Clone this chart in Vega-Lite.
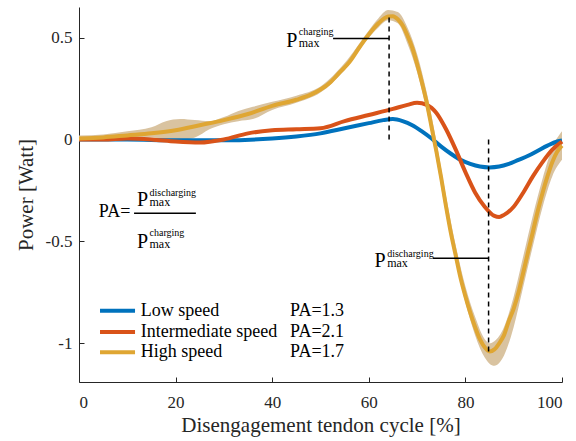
{
  "$schema": "https://vega.github.io/schema/vega-lite/v6.json",
  "width": 483,
  "height": 375,
  "autosize": "none",
  "padding": {"left": 79, "top": 7, "right": 14, "bottom": 59},
  "background": "white",
  "config": {
    "view": {"stroke": null},
    "font": "Liberation Serif",
    "axis": {"grid": false, "domainColor": "#262626", "tickColor": "#262626", "labelColor": "#262626", "titleColor": "#262626", "labelFont": "Liberation Serif", "titleFont": "Liberation Serif", "labelFontSize": 17, "titleFontSize": 21, "titleFontWeight": "normal", "tickSize": -5, "domainWidth": 1, "tickWidth": 1}
  },
  "datasets": {
    "curves": [
      {"series": "Low speed", "x": 0, "y": 0.0},
      {"series": "Low speed", "x": 10, "y": 0.0},
      {"series": "Low speed", "x": 20, "y": -0.004},
      {"series": "Low speed", "x": 30, "y": -0.004},
      {"series": "Low speed", "x": 40, "y": 0.005},
      {"series": "Low speed", "x": 45, "y": 0.015},
      {"series": "Low speed", "x": 50, "y": 0.03},
      {"series": "Low speed", "x": 55, "y": 0.055},
      {"series": "Low speed", "x": 60, "y": 0.08},
      {"series": "Low speed", "x": 63, "y": 0.095},
      {"series": "Low speed", "x": 65, "y": 0.1},
      {"series": "Low speed", "x": 67, "y": 0.09},
      {"series": "Low speed", "x": 69, "y": 0.07},
      {"series": "Low speed", "x": 71, "y": 0.04},
      {"series": "Low speed", "x": 73, "y": 0.005},
      {"series": "Low speed", "x": 75, "y": -0.035},
      {"series": "Low speed", "x": 77, "y": -0.07},
      {"series": "Low speed", "x": 79, "y": -0.1},
      {"series": "Low speed", "x": 81, "y": -0.12},
      {"series": "Low speed", "x": 83, "y": -0.133},
      {"series": "Low speed", "x": 85, "y": -0.137},
      {"series": "Low speed", "x": 87, "y": -0.133},
      {"series": "Low speed", "x": 89, "y": -0.12},
      {"series": "Low speed", "x": 91, "y": -0.1},
      {"series": "Low speed", "x": 93, "y": -0.08},
      {"series": "Low speed", "x": 95, "y": -0.055},
      {"series": "Low speed", "x": 97, "y": -0.03},
      {"series": "Low speed", "x": 99, "y": -0.01},
      {"series": "Low speed", "x": 100, "y": -0.005},
      {"series": "Intermediate speed", "x": 0, "y": 0.0},
      {"series": "Intermediate speed", "x": 5, "y": 0.0},
      {"series": "Intermediate speed", "x": 10, "y": 0.005},
      {"series": "Intermediate speed", "x": 15, "y": 0.0},
      {"series": "Intermediate speed", "x": 20, "y": -0.01},
      {"series": "Intermediate speed", "x": 25, "y": -0.015},
      {"series": "Intermediate speed", "x": 30, "y": 0.0},
      {"series": "Intermediate speed", "x": 35, "y": 0.03},
      {"series": "Intermediate speed", "x": 40, "y": 0.045},
      {"series": "Intermediate speed", "x": 45, "y": 0.05},
      {"series": "Intermediate speed", "x": 50, "y": 0.055},
      {"series": "Intermediate speed", "x": 55, "y": 0.09},
      {"series": "Intermediate speed", "x": 60, "y": 0.12},
      {"series": "Intermediate speed", "x": 65, "y": 0.15},
      {"series": "Intermediate speed", "x": 68, "y": 0.17},
      {"series": "Intermediate speed", "x": 70, "y": 0.18},
      {"series": "Intermediate speed", "x": 72, "y": 0.17},
      {"series": "Intermediate speed", "x": 74, "y": 0.13},
      {"series": "Intermediate speed", "x": 76, "y": 0.05},
      {"series": "Intermediate speed", "x": 78, "y": -0.05},
      {"series": "Intermediate speed", "x": 80, "y": -0.16},
      {"series": "Intermediate speed", "x": 82, "y": -0.26},
      {"series": "Intermediate speed", "x": 84, "y": -0.33},
      {"series": "Intermediate speed", "x": 86, "y": -0.375},
      {"series": "Intermediate speed", "x": 87, "y": -0.38},
      {"series": "Intermediate speed", "x": 88, "y": -0.37},
      {"series": "Intermediate speed", "x": 90, "y": -0.33},
      {"series": "Intermediate speed", "x": 92, "y": -0.26},
      {"series": "Intermediate speed", "x": 94, "y": -0.18},
      {"series": "Intermediate speed", "x": 96, "y": -0.11},
      {"series": "Intermediate speed", "x": 98, "y": -0.05},
      {"series": "Intermediate speed", "x": 100, "y": -0.01},
      {"series": "High speed", "x": 0, "y": 0.005},
      {"series": "High speed", "x": 5, "y": 0.01},
      {"series": "High speed", "x": 10, "y": 0.02},
      {"series": "High speed", "x": 15, "y": 0.03},
      {"series": "High speed", "x": 20, "y": 0.045},
      {"series": "High speed", "x": 25, "y": 0.07},
      {"series": "High speed", "x": 30, "y": 0.095},
      {"series": "High speed", "x": 35, "y": 0.125},
      {"series": "High speed", "x": 40, "y": 0.165},
      {"series": "High speed", "x": 45, "y": 0.195},
      {"series": "High speed", "x": 48, "y": 0.22},
      {"series": "High speed", "x": 50, "y": 0.245},
      {"series": "High speed", "x": 52, "y": 0.28},
      {"series": "High speed", "x": 54, "y": 0.33},
      {"series": "High speed", "x": 56, "y": 0.38},
      {"series": "High speed", "x": 58, "y": 0.45},
      {"series": "High speed", "x": 60, "y": 0.515},
      {"series": "High speed", "x": 62, "y": 0.57},
      {"series": "High speed", "x": 64, "y": 0.603},
      {"series": "High speed", "x": 65, "y": 0.605},
      {"series": "High speed", "x": 66, "y": 0.59},
      {"series": "High speed", "x": 67, "y": 0.56},
      {"series": "High speed", "x": 68, "y": 0.51},
      {"series": "High speed", "x": 69, "y": 0.45},
      {"series": "High speed", "x": 70, "y": 0.37},
      {"series": "High speed", "x": 71, "y": 0.28},
      {"series": "High speed", "x": 72, "y": 0.18},
      {"series": "High speed", "x": 73, "y": 0.06},
      {"series": "High speed", "x": 74, "y": -0.06},
      {"series": "High speed", "x": 75, "y": -0.19},
      {"series": "High speed", "x": 76, "y": -0.33},
      {"series": "High speed", "x": 77, "y": -0.46},
      {"series": "High speed", "x": 78, "y": -0.57},
      {"series": "High speed", "x": 79, "y": -0.68},
      {"series": "High speed", "x": 80, "y": -0.77},
      {"series": "High speed", "x": 81, "y": -0.85},
      {"series": "High speed", "x": 82, "y": -0.92},
      {"series": "High speed", "x": 83, "y": -0.98},
      {"series": "High speed", "x": 84, "y": -1.02},
      {"series": "High speed", "x": 85, "y": -1.04},
      {"series": "High speed", "x": 86, "y": -1.03},
      {"series": "High speed", "x": 87, "y": -1.0},
      {"series": "High speed", "x": 88, "y": -0.96},
      {"series": "High speed", "x": 89, "y": -0.89},
      {"series": "High speed", "x": 90, "y": -0.83},
      {"series": "High speed", "x": 91, "y": -0.75},
      {"series": "High speed", "x": 92, "y": -0.65},
      {"series": "High speed", "x": 93, "y": -0.55},
      {"series": "High speed", "x": 94, "y": -0.45},
      {"series": "High speed", "x": 95, "y": -0.35},
      {"series": "High speed", "x": 96, "y": -0.26},
      {"series": "High speed", "x": 97, "y": -0.18},
      {"series": "High speed", "x": 98, "y": -0.11},
      {"series": "High speed", "x": 99, "y": -0.06},
      {"series": "High speed", "x": 100, "y": -0.03}
    ],
    "band": [
      {"x": 0, "lo": -0.005, "hi": 0.02},
      {"x": 5, "lo": 0.0, "hi": 0.025},
      {"x": 10, "lo": 0.005, "hi": 0.04},
      {"x": 15, "lo": 0.01, "hi": 0.06},
      {"x": 18, "lo": 0.0, "hi": 0.09},
      {"x": 21, "lo": 0.0, "hi": 0.1},
      {"x": 24, "lo": 0.01, "hi": 0.095},
      {"x": 27, "lo": 0.05, "hi": 0.09},
      {"x": 30, "lo": 0.075, "hi": 0.11},
      {"x": 33, "lo": 0.09, "hi": 0.14},
      {"x": 36, "lo": 0.1, "hi": 0.16},
      {"x": 40, "lo": 0.145, "hi": 0.185},
      {"x": 45, "lo": 0.18, "hi": 0.215},
      {"x": 50, "lo": 0.23, "hi": 0.26},
      {"x": 55, "lo": 0.34, "hi": 0.375},
      {"x": 60, "lo": 0.5, "hi": 0.535},
      {"x": 62, "lo": 0.55, "hi": 0.595},
      {"x": 64, "lo": 0.585, "hi": 0.635},
      {"x": 66, "lo": 0.57, "hi": 0.625},
      {"x": 68, "lo": 0.47, "hi": 0.55},
      {"x": 70, "lo": 0.33, "hi": 0.42},
      {"x": 72, "lo": 0.14, "hi": 0.23},
      {"x": 74, "lo": -0.1, "hi": -0.01},
      {"x": 76, "lo": -0.37, "hi": -0.28},
      {"x": 78, "lo": -0.6, "hi": -0.52},
      {"x": 80, "lo": -0.8, "hi": -0.72},
      {"x": 82, "lo": -0.96, "hi": -0.87},
      {"x": 84, "lo": -1.07, "hi": -0.98},
      {"x": 85, "lo": -1.1, "hi": -1.0},
      {"x": 86, "lo": -1.11, "hi": -0.99},
      {"x": 88, "lo": -1.06, "hi": -0.92},
      {"x": 90, "lo": -0.92, "hi": -0.77},
      {"x": 92, "lo": -0.72, "hi": -0.57},
      {"x": 94, "lo": -0.52, "hi": -0.37},
      {"x": 96, "lo": -0.33, "hi": -0.19},
      {"x": 98, "lo": -0.18, "hi": -0.04},
      {"x": 100, "lo": -0.1, "hi": 0.04}
    ],
    "dashed": [
      {"x": 64.2, "y": 0, "y2": 0.603},
      {"x": 84.8, "y": 0, "y2": -1.04}
    ],
    "segments": [
      {"x": 52.6, "x2": 64.2, "y": 0.496},
      {"x": 73.3, "x2": 84.8, "y": -0.583},
      {"x": 11.4, "x2": 24.2, "y": -0.362}
    ],
    "legendlines": [
      {"series": "Low speed", "x": 4.35, "x2": 11.6, "y": -0.84},
      {"series": "Intermediate speed", "x": 4.35, "x2": 11.6, "y": -0.945},
      {"series": "High speed", "x": 4.35, "x2": 11.6, "y": -1.044}
    ],
    "texts": [
      {"role": "big", "x": 45.2, "y": 0.454, "label": "P"},
      {"role": "sup", "x": 45.5, "y": 0.513, "label": "charging"},
      {"role": "sub", "x": 45.5, "y": 0.454, "label": "max"},
      {"role": "big", "x": 63.5, "y": -0.626, "label": "P"},
      {"role": "sup", "x": 63.8, "y": -0.577, "label": "discharging"},
      {"role": "sub", "x": 63.8, "y": -0.626, "label": "max"},
      {"role": "big", "x": 14.3, "y": -0.326, "label": "P"},
      {"role": "sup", "x": 14.6, "y": -0.277, "label": "discharging"},
      {"role": "sub", "x": 14.6, "y": -0.326, "label": "max"},
      {"role": "big", "x": 14.3, "y": -0.533, "label": "P"},
      {"role": "sup", "x": 14.6, "y": -0.474, "label": "charging"},
      {"role": "sub", "x": 14.6, "y": -0.533, "label": "max"},
      {"role": "pa", "x": 4.1, "y": -0.38, "label": "PA="},
      {"role": "leg", "x": 12.8, "y": -0.865, "label": "Low speed"},
      {"role": "leg", "x": 12.8, "y": -0.969, "label": "Intermediate speed"},
      {"role": "leg", "x": 12.8, "y": -1.069, "label": "High speed"},
      {"role": "leg", "x": 43.7, "y": -0.865, "label": "PA=1.3"},
      {"role": "leg", "x": 43.7, "y": -0.969, "label": "PA=2.1"},
      {"role": "leg", "x": 43.7, "y": -1.069, "label": "PA=1.7"}
    ]
  },
  "layer": [
    {
      "data": {"name": "band"},
      "mark": {"type": "area", "color": "#D9C3A0", "opacity": 1, "interpolate": "monotone"},
      "encoding": {
        "x": {"field": "x", "type": "quantitative", "scale": {"domain": [0, 100], "nice": false},
          "axis": {"values": [0, 20, 40, 60, 80, 100], "title": "Disengagement tendon cycle [%]", "labelPadding": 17, "titlePadding": 4}},
        "y": {"field": "lo", "type": "quantitative", "scale": {"domain": [-1.19, 0.65], "nice": false, "zero": false},
          "axis": {"values": [-1, -0.5, 0, 0.5], "labelExpr": "toString(datum.value)", "title": "Power [Watt]", "labelPadding": 12, "titlePadding": 9}},
        "y2": {"field": "hi"}
      }
    },
    {
      "mark": {"type": "rule", "color": "#000000", "strokeWidth": 1.5},
      "encoding": {"y": {"datum": 0}}
    },
    {
      "data": {"name": "curves"},
      "mark": {"type": "line", "strokeWidth": 4, "interpolate": "monotone"},
      "encoding": {
        "x": {"field": "x", "type": "quantitative"},
        "y": {"field": "y", "type": "quantitative"},
        "color": {"field": "series", "type": "nominal", "legend": null,
          "scale": {"domain": ["Low speed", "Intermediate speed", "High speed"], "range": ["#0072BD", "#D95319", "#DFA633"]}}
      }
    },
    {
      "data": {"name": "dashed"},
      "mark": {"type": "rule", "color": "#000000", "strokeWidth": 1.5, "strokeDash": [5, 4]},
      "encoding": {
        "x": {"field": "x", "type": "quantitative"},
        "y": {"field": "y", "type": "quantitative"},
        "y2": {"field": "y2"}
      }
    },
    {
      "data": {"name": "segments"},
      "mark": {"type": "rule", "color": "#000000", "strokeWidth": 1.5},
      "encoding": {
        "x": {"field": "x", "type": "quantitative"},
        "x2": {"field": "x2"},
        "y": {"field": "y", "type": "quantitative"}
      }
    },
    {
      "data": {"name": "legendlines"},
      "mark": {"type": "rule", "strokeWidth": 4},
      "encoding": {
        "x": {"field": "x", "type": "quantitative"},
        "x2": {"field": "x2"},
        "y": {"field": "y", "type": "quantitative"},
        "color": {"field": "series", "type": "nominal", "legend": null}
      }
    },
    {
      "data": {"name": "texts"},
      "transform": [{"filter": "datum.role === 'big'"}],
      "mark": {"type": "text", "font": "Liberation Serif", "align": "right", "baseline": "alphabetic", "fontSize": 20, "color": "#000000"},
      "encoding": {"x": {"field": "x", "type": "quantitative"}, "y": {"field": "y", "type": "quantitative"}, "text": {"field": "label"}}
    },
    {
      "data": {"name": "texts"},
      "transform": [{"filter": "datum.role === 'sup'"}],
      "mark": {"type": "text", "font": "Liberation Serif", "align": "left", "baseline": "alphabetic", "fontSize": 10, "color": "#000000"},
      "encoding": {"x": {"field": "x", "type": "quantitative"}, "y": {"field": "y", "type": "quantitative"}, "text": {"field": "label"}}
    },
    {
      "data": {"name": "texts"},
      "transform": [{"filter": "datum.role === 'sub'"}],
      "mark": {"type": "text", "font": "Liberation Serif", "align": "left", "baseline": "alphabetic", "fontSize": 12, "color": "#000000"},
      "encoding": {"x": {"field": "x", "type": "quantitative"}, "y": {"field": "y", "type": "quantitative"}, "text": {"field": "label"}}
    },
    {
      "data": {"name": "texts"},
      "transform": [{"filter": "datum.role === 'pa'"}],
      "mark": {"type": "text", "font": "Liberation Serif", "align": "left", "baseline": "alphabetic", "fontSize": 18, "color": "#000000"},
      "encoding": {"x": {"field": "x", "type": "quantitative"}, "y": {"field": "y", "type": "quantitative"}, "text": {"field": "label"}}
    },
    {
      "data": {"name": "texts"},
      "transform": [{"filter": "datum.role === 'leg'"}],
      "mark": {"type": "text", "font": "Liberation Serif", "align": "left", "baseline": "alphabetic", "fontSize": 18, "color": "#000000"},
      "encoding": {"x": {"field": "x", "type": "quantitative"}, "y": {"field": "y", "type": "quantitative"}, "text": {"field": "label"}}
    }
  ]
}
